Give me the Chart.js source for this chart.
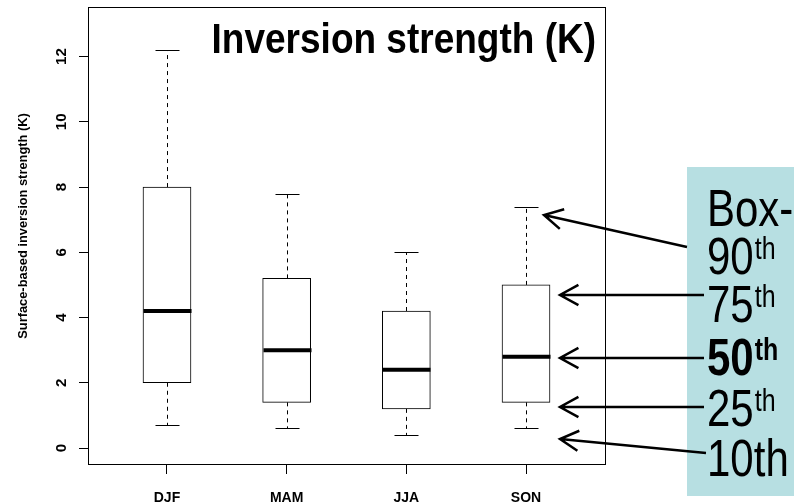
<!DOCTYPE html>
<html lang="en">
<head>
    <meta charset="UTF-8">
    <title>Inversion strength (K)</title>
    <script src="https://cdn.jsdelivr.net/npm/chart.js"></script>
    <style>
        body { margin: 0; background: #ffffff; }
        #wrap { width: 794px; height: 504px; position: relative; }
    </style>
</head>
<body>
    <div id="wrap"><canvas id="boxChart" width="794" height="504"></canvas></div>

    <script>
        // Seasons and box statistics
        const seasons = ['DJF', 'MAM', 'JJA', 'SON'];
        const p10 = [0.7, 0.6, 0.4, 0.6];
        const p25 = [2.0, 1.4, 1.2, 1.4];
        const p50 = [4.2, 3.0, 2.4, 2.8];
        const p75 = [8.0, 5.2, 4.2, 5.0];
        const p90 = [12.2, 7.8, 6.0, 7.4];
        const yTicks = [0, 2, 4, 6, 8, 10, 12];
        const keyLines = ['Box-', '90', '75', '50', '25', '10th'];

        const FONT = '"Liberation Sans", Arial, sans-serif';

        // text helper: the original picture is a bit stretched, so scale along one axis
        function drawText(ctx, text, x, y, font, sx, sy, rot) {
            ctx.save();
            ctx.translate(x, y);
            if (rot) ctx.rotate(rot);
            ctx.scale(sx, sy);
            ctx.font = font;
            ctx.fillText(text, 0, 0);
            ctx.restore();
        }

        function arrow(ctx, x0, y0, x1, y1) {
            const a = Math.atan2(y1 - y0, x1 - x0);
            const len = 21, spread = 0.5;
            ctx.beginPath();
            ctx.moveTo(x0, y0);
            ctx.lineTo(x1, y1);
            ctx.moveTo(x1 - len * Math.cos(a - spread), y1 - len * Math.sin(a - spread));
            ctx.lineTo(x1, y1);
            ctx.lineTo(x1 - len * Math.cos(a + spread), y1 - len * Math.sin(a + spread));
            ctx.stroke();
        }

        const boxPlugin = {
            id: 'boxParts',
            afterDatasetsDraw(chart) {
                const ctx = chart.ctx;
                const xs = chart.scales.x, ys = chart.scales.y;
                const half = 24, cap = 12;
                ctx.save();
                ctx.strokeStyle = '#000';
                seasons.forEach((s, i) => {
                    const cx = Math.round(xs.getPixelForValue(i + 1)) + 0.5;
                    const yLo = ys.getPixelForValue(p10[i]);
                    const yQ1 = ys.getPixelForValue(p25[i]);
                    const yMed = ys.getPixelForValue(p50[i]);
                    const yQ3 = ys.getPixelForValue(p75[i]);
                    const yHi = ys.getPixelForValue(p90[i]);
                    // dashed whiskers
                    ctx.lineWidth = 1;
                    ctx.setLineDash([4, 4]);
                    ctx.beginPath();
                    ctx.moveTo(cx, yQ3); ctx.lineTo(cx, yHi);
                    ctx.moveTo(cx, yQ1); ctx.lineTo(cx, yLo);
                    ctx.stroke();
                    ctx.setLineDash([]);
                    // caps
                    ctx.beginPath();
                    ctx.moveTo(cx - cap, Math.round(yHi) + 0.5); ctx.lineTo(cx + cap, Math.round(yHi) + 0.5);
                    ctx.moveTo(cx - cap, Math.round(yLo) + 0.5); ctx.lineTo(cx + cap, Math.round(yLo) + 0.5);
                    ctx.stroke();
                    // median
                    ctx.lineWidth = 4;
                    ctx.beginPath();
                    ctx.moveTo(cx - half, yMed); ctx.lineTo(cx + half, yMed);
                    ctx.stroke();
                });
                ctx.restore();
            },
            afterDraw(chart) {
                const ctx = chart.ctx;
                const a = chart.chartArea;
                const ys = chart.scales.y;
                ctx.save();
                // plot frame
                ctx.strokeStyle = '#000';
                ctx.lineWidth = 1;
                ctx.strokeRect(Math.round(a.left) + 0.5, Math.round(a.top) + 0.5,
                    Math.round(a.right - a.left), Math.round(a.bottom - a.top));

                // y tick labels, rotated like base R
                ctx.fillStyle = '#000';
                ctx.textAlign = 'center';
                ctx.textBaseline = 'alphabetic';
                yTicks.forEach(v => {
                    drawText(ctx, String(v), 66, ys.getPixelForValue(v),
                        'bold 14px ' + FONT, 1.08, 1, -Math.PI / 2);
                });
                // y axis title
                drawText(ctx, 'Surface-based inversion strength (K)', 27, 226,
                    'bold 12px ' + FONT, 1.07, 1, -Math.PI / 2);

                // title inside the plot
                ctx.textAlign = 'right';
                drawText(ctx, 'Inversion strength (K)', 596, 53, 'bold 37px ' + FONT, 1, 1.17);

                // key box
                ctx.fillStyle = '#b7dfe2';
                ctx.fillRect(687, 167, 107, 329);

                ctx.fillStyle = '#000';
                ctx.textAlign = 'left';
                const base = [226, 274, 322, 375, 426, 476];
                keyLines.forEach((t, i) => {
                    const bold = t === '50';
                    const f = (bold ? 'bold ' : '') + '42px ' + FONT;
                    drawText(ctx, t, 707, base[i], f, 1, 1.22);
                    if (i >= 1 && i <= 4) {
                        ctx.font = f;
                        const w = ctx.measureText(t).width;
                        drawText(ctx, 'th', 707 + w + 1, base[i] - 15,
                            (bold ? 'bold ' : '') + '25px ' + FONT, 1, 1.22);
                    }
                });

                // arrows into the SON box
                ctx.strokeStyle = '#000';
                ctx.lineWidth = 2.5;
                ctx.lineCap = 'butt';
                arrow(ctx, 687, 247, 544, 215);
                arrow(ctx, 704, 295, 560, 295);
                arrow(ctx, 704, 358, 560, 358);
                arrow(ctx, 704, 407, 560, 407);
                arrow(ctx, 706, 453, 560, 439);
                ctx.restore();
            }
        };

        const ctx = document.getElementById('boxChart').getContext('2d');
        new Chart(ctx, {
            type: 'bar',
            data: {
                datasets: [{
                    data: seasons.map((s, i) => ({ x: i + 1, y: [p25[i], p75[i]] })),
                    backgroundColor: '#ffffff',
                    borderColor: '#000000',
                    borderWidth: 1,
                    borderSkipped: false,
                    barThickness: 48
                }]
            },
            options: {
                responsive: false,
                animation: false,
                events: [],
                layout: { padding: { left: 0, top: 7, right: 189, bottom: 0 } },
                plugins: { legend: { display: false }, tooltip: { enabled: false } },
                scales: {
                    x: {
                        type: 'linear',
                        offset: false,
                        min: 0.34,
                        max: 4.66,
                        afterBuildTicks: s => { s.ticks = seasons.map((_, i) => ({ value: i + 1 })); },
                        afterFit: s => { s.height = 40; },
                        grid: { offset: false, drawOnChartArea: false, tickLength: 10, color: '#000' },
                        border: { display: true, color: '#000' },
                        ticks: {
                            callback: (v, i) => seasons[i],
                            color: '#000',
                            font: { family: FONT, size: 14, weight: 'bold' },
                            padding: 16,
                            maxRotation: 0
                        }
                    },
                    y: {
                        type: 'linear',
                        min: -0.49,
                        max: 13.52,
                        afterBuildTicks: s => { s.ticks = yTicks.map(v => ({ value: v })); },
                        afterFit: s => { s.width = 88; },
                        grid: { drawOnChartArea: false, tickLength: 9, color: '#000' },
                        border: { display: true, color: '#000' },
                        ticks: { display: false }
                    }
                }
            },
            plugins: [boxPlugin]
        });
    </script>
</body>
</html>
